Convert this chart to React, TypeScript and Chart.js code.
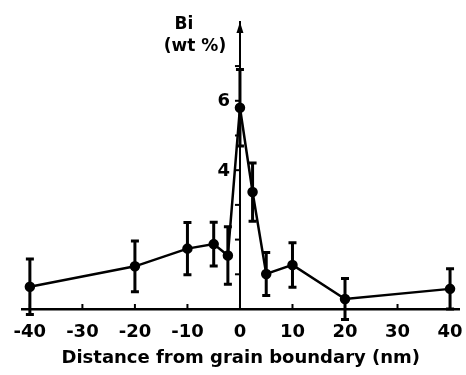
import React, { useEffect, useRef } from "react";
import { Chart, registerables } from "chart.js";

Chart.register(...registerables);

const xValues = [-40, -20, -10, -5, -2.3, 0, 2.4, 5, 10, 20, 40];
const biValues = [0.64, 1.23, 1.74, 1.87, 1.54, 5.8, 3.37, 1.01, 1.27, 0.29, 0.58];
const errValues = [0.8, 0.73, 0.75, 0.63, 0.83, 1.1, 0.84, 0.62, 0.64, 0.59, 0.58];
const xTicks = [-40, -30, -20, -10, 0, 10, 20, 30, 40];
const yTickMarks = [1, 2, 3, 4, 5, 6, 7];
const yTickLabels = [4, 6];

const FONT = "'DejaVu Sans', sans-serif";

const decorPlugin = {
  id: "decor",
  afterDatasetsDraw(chart: any) {
    const ctx = chart.ctx;
    const xs = chart.scales.x;
    const ys = chart.scales.y;
    ctx.save();
    ctx.strokeStyle = "#000";
    ctx.fillStyle = "#000";
    // error bars
    ctx.lineWidth = 3;
    for (let i = 0; i < xValues.length; i++) {
      const px = xs.getPixelForValue(xValues[i]);
      const top = ys.getPixelForValue(biValues[i] + errValues[i]);
      const bot = ys.getPixelForValue(biValues[i] - errValues[i]);
      ctx.beginPath();
      ctx.moveTo(px, top);
      ctx.lineTo(px, bot);
      ctx.moveTo(px - 4, top);
      ctx.lineTo(px + 4, top);
      ctx.moveTo(px - 4, bot);
      ctx.lineTo(px + 4, bot);
      ctx.stroke();
    }
    // x tick marks
    ctx.lineWidth = 2;
    const axisY = ys.getPixelForValue(0);
    for (const t of xTicks) {
      const px = xs.getPixelForValue(t);
      ctx.beginPath();
      ctx.moveTo(px, axisY);
      ctx.lineTo(px, axisY - 5);
      ctx.stroke();
    }
    // y tick marks
    const axisX = xs.getPixelForValue(0);
    for (const t of yTickMarks) {
      const py = ys.getPixelForValue(t);
      ctx.beginPath();
      ctx.moveTo(axisX, py);
      ctx.lineTo(axisX - 5, py);
      ctx.stroke();
    }
    // y tick labels
    ctx.font = `bold 18px ${FONT}`;
    ctx.textAlign = "right";
    ctx.textBaseline = "middle";
    for (const t of yTickLabels) {
      ctx.fillText(String(t), axisX - 10, ys.getPixelForValue(t) + 1);
    }
    // arrow
    const topY = chart.chartArea.top;
    ctx.beginPath();
    ctx.moveTo(axisX, topY);
    ctx.lineTo(axisX - 3.5, topY + 11);
    ctx.lineTo(axisX + 3.5, topY + 11);
    ctx.closePath();
    ctx.fill();
    // y title
    ctx.font = `bold 17px ${FONT}`;
    ctx.textAlign = "center";
    ctx.fillText("Bi", 184, 25);
    ctx.fillText("(wt %)", 195, 47);
    ctx.restore();
  },
};

export default function App() {
  const ref = useRef<HTMLCanvasElement>(null);
  useEffect(() => {
    const chart = new Chart(ref.current!, {
      type: "line",
      data: {
        datasets: [
          {
            data: xValues.map((x, i) => ({ x, y: biValues[i] })),
            borderColor: "#000",
            backgroundColor: "#000",
            borderWidth: 2.5,
            pointRadius: 4,
            pointBackgroundColor: "#000",
            pointBorderColor: "#000",
            tension: 0,
            clip: false as any,
          },
        ],
      },
      options: {
        animation: false,
        responsive: true,
        maintainAspectRatio: false,
        layout: { padding: { top: 22, left: 22, right: 0, bottom: 0 } },
        plugins: { legend: { display: false }, tooltip: { enabled: false } },
        scales: {
          x: {
            type: "linear",
            position: "bottom",
            min: -41.5,
            max: 41.8,
            afterBuildTicks: (s: any) => {
              s.ticks = xTicks.map((v) => ({ value: v }));
            },
            afterFit: (s: any) => {
              s.height = 66;
              s.paddingLeft = 0;
              s.paddingRight = 0;
            },
            grid: { display: false, drawTicks: false },
            border: { display: true, color: "#000", width: 2.5 },
            ticks: {
              padding: 13,
              color: "#000",
              font: { family: FONT, size: 18, weight: "bold" },
              maxRotation: 0,
              autoSkip: false,
            },
            title: {
              display: true,
              text: "Distance from grain boundary (nm)",
              color: "#000",
              font: { family: FONT, size: 18, weight: "bold" },
              padding: { top: 0, bottom: 6 },
            },
          },
          y: {
            type: "linear",
            position: { x: 0 } as any,
            min: 0,
            max: 8.27,
            afterBuildTicks: (s: any) => {
              s.ticks = yTickLabels.map((v) => ({ value: v }));
            },
            afterFit: (s: any) => {
              s.paddingTop = 0;
              s.paddingBottom = 0;
            },
            grid: { display: false, drawTicks: false },
            border: { display: true, color: "#000", width: 2 },
            ticks: { display: false },
          },
        },
      },
      plugins: [decorPlugin],
    } as any);
    return () => chart.destroy();
  }, []);
  return (
    <div style={{ position: "fixed", left: 0, top: 0, width: 466, height: 375, background: "#fff" }}>
      <canvas ref={ref} />
    </div>
  );
}
